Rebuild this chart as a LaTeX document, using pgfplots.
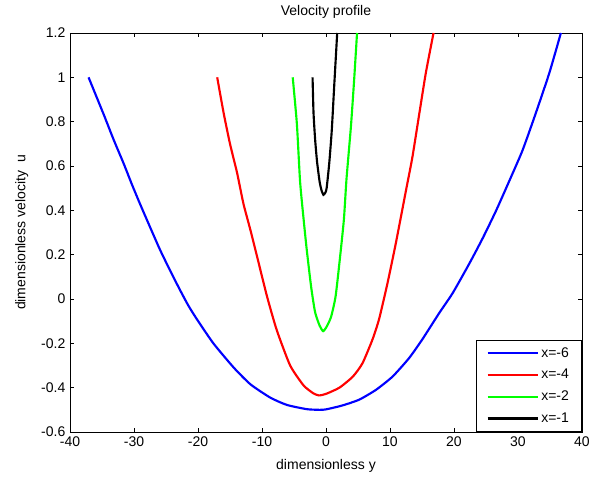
\documentclass[border=0pt]{standalone}
\usepackage{fontspec}
\setmainfont{Liberation Sans}
\usepackage{pgfplots}
\pgfplotsset{compat=1.18}

\pgfplotstableread{
y u
-37.1 1.0
-34.7 0.83
-33.2 0.72
-31.6 0.61
-30.3 0.515
-29.0 0.425
-27.2 0.305
-25.9 0.22
-24.3 0.125
-22.8 0.04
-21.5 -0.03
-20.2 -0.09
-17.6 -0.20
-14.4 -0.31
-11.8 -0.385
-8.7 -0.445
-6.1 -0.478
-3.0 -0.497
-1.0 -0.50
0.0 -0.498
2.6 -0.48
5.2 -0.454
7.8 -0.41
10.4 -0.35
13.0 -0.266
15.1 -0.18
17.7 -0.063
19.8 0.027
22.4 0.16
24.5 0.275
26.6 0.40
28.6 0.53
30.7 0.67
32.8 0.84
34.9 1.02
36.7 1.2
}\xsix

\pgfplotstableread{
y u
-17.0 1.0
-16.0 0.84
-15.0 0.70
-13.9 0.57
-12.9 0.43
-11.8 0.31
-10.5 0.16
-9.2 0.01
-7.7 -0.14
-5.6 -0.30
-3.5 -0.39
-2.0 -0.425
-1.1 -0.435
0.0 -0.428
2.1 -0.40
4.2 -0.35
5.7 -0.29
7.3 -0.18
8.3 -0.09
9.6 0.07
10.9 0.25
12.5 0.49
13.5 0.64
14.6 0.84
15.6 1.02
16.8 1.2
}\xfour

\pgfplotstableread{
y u
-5.2 1.0
-4.55 0.79
-4.05 0.53
-3.5 0.36
-3.0 0.22
-2.3 0.05
-1.7 -0.06
-1.0 -0.12
-0.45 -0.145
0.1 -0.125
0.8 -0.08
1.5 0.012
2.2 0.19
2.8 0.36
3.2 0.54
3.9 0.78
4.4 0.99
4.85 1.2
}\xtwo

\pgfplotstableread{
y u
-2.1 1.0
-1.95 0.84
-1.7 0.72
-1.4 0.62
-1.0 0.53
-0.7 0.49
-0.4 0.47
-0.1 0.48
0.1 0.5
0.5 0.61
0.9 0.76
1.3 0.97
1.75 1.2
}\xone

\begin{document}
\begin{tikzpicture}
\begin{axis}[
  name=ax,
  scale only axis,
  width=384pt, height=299.25pt,
  xmin=-40, xmax=40, ymin=-0.6, ymax=1.2,
  xtick={-40,-30,-20,-10,0,10,20,30,40},
  ytick={-0.6,-0.4,-0.2,0,0.2,0.4,0.6,0.8,1,1.2},
  tick pos=both, tick align=inside,
  major tick length=3pt,
  axis line style={line width=0.6pt},
  every tick/.style={black, line width=0.5pt},
  /pgf/number format/assume math mode=true,
  font=\fontsize{10.5}{12}\selectfont,
  tick label style={font=\fontsize{10.5}{12}\selectfont},
  xlabel={dimensionless y},
  xlabel style={at={(axis description cs:0.5,-0.085)}, anchor=center},
  ylabel={dimensionless velocity\ \ u},
  ylabel style={at={(axis description cs:-0.094,0.5)}, anchor=center, rotate=0},
  legend style={at={(1,0)}, anchor=south east, draw=black, line width=0.6pt,
    font=\fontsize{10.5}{12}\selectfont, inner xsep=7.5pt, inner ysep=3.5pt,
    row sep=3.5pt, cells={anchor=west}},
  legend image code/.code={\draw[#1, line width=1.6pt] (0pt,0pt) -- (37.5pt,0pt);},
  legend cell align=left,
  every axis plot/.append style={line width=1.6pt, smooth, tension=0.35},
]
\addplot[blue] table[x=y, y=u] {\xsix};
\addplot[red] table[x=y, y=u] {\xfour};
\addplot[green] table[x=y, y=u] {\xtwo};
\addplot[black] table[x=y, y=u] {\xone};
\legend{x=-6, x=-4, x=-2, x=-1}
\end{axis}
\node[font=\fontsize{10.5}{12}\selectfont] at ([yshift=15.75pt]ax.north) {Velocity profile};
\pgfresetboundingbox
\path[use as bounding box] ([xshift=-52.5pt, yshift=-34.5pt]ax.south west)
  rectangle ([xshift=13.5pt, yshift=24.75pt]ax.north east);
\end{tikzpicture}
\end{document}
